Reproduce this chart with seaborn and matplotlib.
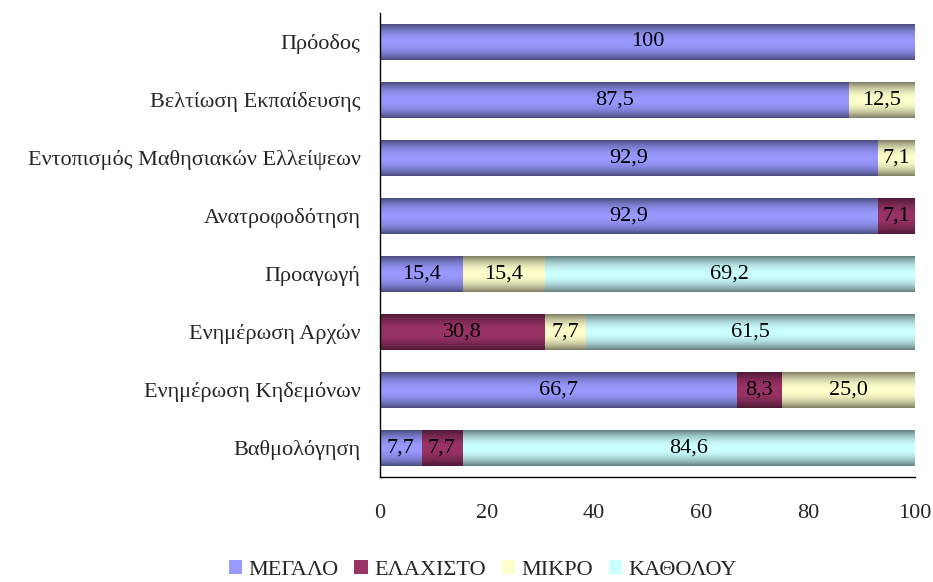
import seaborn as sns
import matplotlib.pyplot as plt
import matplotlib.patches as mpatches
import numpy as np
import pandas as pd

# Chart data (percentages)
categories = ['Πρόοδος', 'Βελτίωση Εκπαίδευσης', 'Εντοπισμός Μαθησιακών Ελλείψεων',
              'Ανατροφοδότηση', 'Προαγωγή', 'Ενημέρωση Αρχών',
              'Ενημέρωση Κηδεμόνων', 'Βαθμολόγηση']
series_names = ['ΜΕΓΑΛΟ', 'ΕΛΑΧΙΣΤΟ', 'ΜΙΚΡΟ', 'ΚΑΘΟΛΟΥ']
megalo = [100, 87.5, 92.9, 92.9, 15.4, 0, 66.7, 7.7]
elaxisto = [0, 0, 0, 7.1, 0, 30.8, 8.3, 7.7]
mikro = [0, 12.5, 7.1, 0, 15.4, 7.7, 25.0, 0]
katholou = [0, 0, 0, 0, 69.2, 61.5, 0, 84.6]
colors = ['#9999FF', '#993366', '#FFFFCC', '#CCFFFF']

df = pd.DataFrame({'Κατηγορία': categories, 'ΜΕΓΑΛΟ': megalo, 'ΕΛΑΧΙΣΤΟ': elaxisto,
                   'ΜΙΚΡΟ': mikro, 'ΚΑΘΟΛΟΥ': katholou})
cum = df[series_names].cumsum(axis=1)

sns.set_style("white")
plt.rcParams['font.family'] = ['Liberation Serif', 'DejaVu Serif']
FS = 16

fig = plt.figure(figsize=(9.33, 5.82), dpi=100)
ax = fig.add_axes([380 / 933, 1 - 477 / 582, 535 / 933, 464 / 582])

# stacked bars: draw cumulative totals from the longest down
for name, col in reversed(list(zip(series_names, colors))):
    sns.barplot(x=cum[name], y=df['Κατηγορία'], orient='h', color=col,
                saturation=1, width=0.62, linewidth=0, ax=ax)

# vertical shading on each bar (dark edges, light middle)
t = np.linspace(0, 1, 64)
shade = 1 - 0.5 * np.abs(2 * t - 1) ** 2.0
for i, p in enumerate(ax.patches):
    w = p.get_width()
    if w <= 0:
        continue
    x0, y0, h = p.get_x(), p.get_y(), p.get_height()
    c = np.array(p.get_facecolor()[:3])
    img = shade[:, None, None] * c[None, None, :]
    ax.imshow(img, extent=(x0, x0 + w, y0 + h, y0), aspect='auto',
              interpolation='bilinear', zorder=2 + i * 0.01)

# value labels
def fmt(v):
    return '100' if v >= 100 else f"{v:.1f}".replace('.', ',')

for i in range(len(categories)):
    left = 0
    for name in series_names:
        v = df[name][i]
        if v > 0:
            ax.text(left + v / 2, i, fmt(v), ha='center',
                    va='center', fontsize=FS, color='black', zorder=5)
        left += v

ax.set_xlim(0, 100)
ax.set_ylim(len(categories) - 0.5, -0.5)
ax.set_xticks([0, 20, 40, 60, 80, 100])
ax.set_xlabel('')
ax.set_ylabel('')
ax.set_yticks(np.arange(-0.5, len(categories)), minor=True)
ax.tick_params(axis='y', which='major', length=0, pad=14, labelsize=FS)
ax.tick_params(axis='y', which='minor', length=6, width=1, color='black', direction='out')
ax.tick_params(axis='x', length=4.5, width=1, color='black', direction='out', pad=15, labelsize=FS)
for s in ['top', 'right']:
    ax.spines[s].set_visible(False)
for s in ['left', 'bottom']:
    ax.spines[s].set_color('black')
    ax.spines[s].set_linewidth(1)

handles = [mpatches.Patch(facecolor=c, edgecolor='none', label=n)
           for n, c in zip(series_names, colors)]
fig.legend(handles=handles, loc='center', bbox_to_anchor=(483 / 933, 1 - 570 / 582),
           ncol=4, frameon=False, fontsize=FS, handlelength=0.6, handleheight=0.6,
           handletextpad=0.3, columnspacing=0.7)

plt.savefig('out.png', dpi=100)
